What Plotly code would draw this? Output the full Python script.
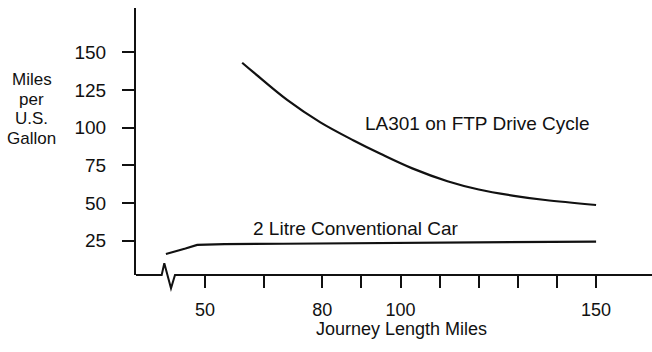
import plotly.graph_objects as go

# Data
conv_x = [40, 42, 45, 48, 55, 70, 90, 110, 130, 150]
conv_y = [16.2, 17.5, 19.8, 22.2, 22.8, 23.0, 23.3, 23.8, 24.2, 24.4]

la_x = [59.5, 62.5, 71, 79.5, 88, 95, 103, 112, 120, 129, 137, 150]
la_y = [143.1, 136.5, 118.4, 103.5, 91.5, 82.5, 73.0, 64.5, 59.0, 54.8, 52.0, 48.7]

x_tickvals = [50, 65, 80, 90, 100, 110, 120, 130, 140, 150]
x_ticktext = ["50", "", "80", "", "100", "", "", "", "", "150"]
y_tickvals = [25, 50, 75, 100, 125, 150]
y_title_lines = ["Miles", "per", "U.S.", "Gallon"]

INK = "#111111"
FONT = "Liberation Sans, Arial, Helvetica, sans-serif"

fig = go.Figure()
fig.add_trace(go.Scatter(x=conv_x, y=conv_y, mode="lines",
                         line=dict(color=INK, width=2.2),
                         showlegend=False, hoverinfo="skip"))
fig.add_trace(go.Scatter(x=la_x, y=la_y, mode="lines",
                         line=dict(color=INK, width=2.2, shape="spline", smoothing=1.0),
                         showlegend=False, hoverinfo="skip"))

W, H = 652, 352
L, R, T, B = 136, 0, 8, 77
pw = W - L - R
ph = H - T - B

def px(xp):
    return (xp - L) / pw

def py(yp):
    return (H - B - yp) / ph

# x axis baseline with break zigzag
path = (f"M 0,0 L {px(161.7)},0 L {px(164.3)},{py(263.3)} "
        f"L {px(171)},{py(288.3)} L {px(175)},0 L 1,0")
fig.add_shape(type="path", path=path, xref="paper", yref="paper",
              line=dict(color=INK, width=2))

def label(txt, xc, yc, size):
    fig.add_annotation(text=txt, x=px(xc), y=py(yc), xref="paper", yref="paper",
                       xanchor="center", yanchor="middle", showarrow=False,
                       font=dict(size=size, color=INK, family=FONT))

label("LA301 on FTP Drive Cycle", 477.2, 123.3, 19)
label("2 Litre Conventional Car", 356.3, 228.3, 19)
label("Journey Length Miles", 401.7, 329, 18)
for i, txt in enumerate(y_title_lines):
    label(txt, 31.5, 79.4 + 19.6 * i, 17)

fig.update_xaxes(range=[32.35, 164.3], tickvals=x_tickvals, ticktext=x_ticktext,
                 ticks="outside", ticklen=12, tickwidth=2, tickcolor=INK,
                 showline=False, showgrid=False, zeroline=False,
                 tickfont=dict(size=18, color=INK, family=FONT),
                 ticklabelstandoff=6)
fig.update_yaxes(range=[2.26, 179.4], tickvals=y_tickvals,
                 ticks="outside", ticklen=12, tickwidth=2, tickcolor=INK,
                 showline=True, linewidth=2, linecolor=INK,
                 showgrid=False, zeroline=False,
                 tickfont=dict(size=19, color=INK, family=FONT),
                 ticklabelstandoff=12)

fig.update_layout(width=W, height=H, margin=dict(l=L, r=R, t=T, b=B),
                  paper_bgcolor="white", plot_bgcolor="white",
                  font=dict(family=FONT, color=INK))

fig.write_html("out.html", config={"displayModeBar": False},
               post_script="document.body.style.margin='0';document.body.style.overflow='hidden';")
